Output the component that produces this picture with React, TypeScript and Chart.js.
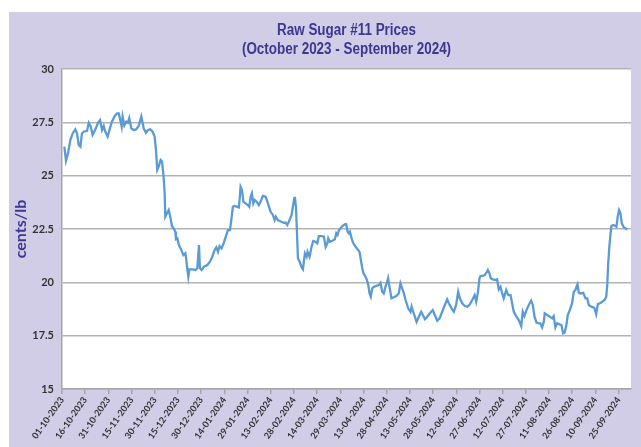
import React, { useEffect, useRef } from "react";
import { Chart, registerables } from "chart.js";

Chart.register(...registerables);

// Day offsets from 01-10-2023
const days: number[] = [
  1.5, 2.6, 3.9, 5.4, 6.9, 8.6, 9.7, 10.8, 11.9, 12.9, 14.0, 16.2, 17.3, 18.6, 19.8, 21.6, 23.3, 24.6, 25.9, 27.0,
  28.0, 29.5, 31.3, 32.3, 34.1, 35.6, 36.7, 37.7, 38.6, 39.2, 40.3, 41.6, 42.7, 43.5, 44.8, 46.3, 47.9, 49.6, 51.3, 52.8,
  54.3, 55.6, 57.1, 58.6, 59.9, 60.8, 61.6, 62.5, 63.8, 64.7, 65.7, 66.4, 66.8, 67.9, 69.0, 70.0, 71.1, 72.2, 73.3, 73.7,
  74.6, 75.6, 77.2, 78.5, 79.8, 80.4, 81.1, 81.7, 82.4, 84.3, 86.4, 87.5, 88.6, 89.2, 90.3, 91.8, 94.0, 95.7, 97.2, 98.7,
  99.8, 100.9, 101.9, 103.2, 104.7, 106.3, 107.3, 108.6, 109.5, 110.5, 111.6, 113.4, 114.4, 115.1, 115.5, 116.4, 117.3, 118.7, 120.2, 121.1,
  122.0, 122.8, 123.7, 124.6, 125.9, 127.3, 128.9, 129.9, 131.7, 133.2, 134.9, 136.4, 137.5, 138.3, 139.6, 141.8, 143.5, 144.6, 145.7, 146.7,
  148.5, 149.3, 150.2, 150.6, 151.3, 151.9, 152.6, 153.7, 155.0, 155.8, 157.1, 158.2, 158.8, 160.1, 161.4, 162.5, 164.0, 165.1, 166.1, 167.9,
  169.4, 170.5, 171.6, 172.2, 173.2, 174.8, 176.5, 177.4, 178.2, 179.1, 180.2, 181.3, 182.9, 183.8, 184.7, 185.5, 186.2, 187.3, 188.4, 189.9,
  191.6, 192.4, 193.3, 194.2, 195.0, 196.3, 197.2, 198.1, 198.9, 199.7, 200.6, 201.7, 203.2, 204.9, 206.0, 207.1, 208.1, 209.2, 210.3, 210.9,
  211.8, 213.1, 214.6, 216.2, 217.8, 218.9, 220.0, 221.1, 222.2, 223.9, 225.4, 226.1, 226.9, 228.2, 229.3, 230.8, 232.3, 233.4, 234.7, 236.2,
  237.9, 239.8, 241.1, 242.7, 244.2, 245.9, 247.6, 249.1, 250.2, 251.9, 253.4, 254.9, 256.2, 257.3, 258.8, 260.5, 262.1, 263.5, 265.3, 266.9,
  267.9, 268.9, 270.0, 270.7, 272.2, 273.4, 274.5, 275.4, 276.5, 277.3, 278.6, 280.4, 281.4, 282.5, 283.6, 284.7, 285.7, 287.3, 288.6, 290.1,
  291.1, 292.2, 293.9, 295.4, 297.0, 298.0, 299.1, 300.4, 301.9, 303.4, 304.5, 305.6, 306.9, 308.3, 309.4, 310.5, 311.6, 312.2, 313.8, 315.5,
  317.0, 318.0, 319.1, 320.2, 321.9, 323.0, 324.1, 325.1, 326.2, 327.1, 328.4, 329.9, 331.0, 332.1, 332.7, 333.4, 334.2, 335.3, 337.1, 338.6,
  339.7, 340.7, 342.3, 343.6, 344.4, 345.5, 346.6, 347.9, 349.4, 350.9, 352.0, 352.7, 353.2, 354.0, 354.7, 355.3, 356.5, 358.0, 358.6, 359.4,
  360.3, 361.2, 362.0, 363.3, 365.5,
];

// Raw Sugar #11 prices, cents/lb
const prices: number[] = [
  26.36, 25.70, 26.05, 26.67, 26.98, 27.17, 26.98, 26.44, 26.36, 26.98, 27.06, 27.10, 27.48, 27.30, 26.91, 27.17, 27.48, 27.61, 27.14, 27.33,
  27.06, 26.83, 27.30, 27.53, 27.80, 27.92, 27.92, 27.61, 27.30, 27.77, 27.36, 27.53, 27.48, 27.69, 27.22, 27.14, 27.17, 27.33, 27.77, 27.22,
  27.01, 27.14, 27.17, 27.06, 26.83, 26.20, 25.27, 25.42, 25.73, 25.66, 24.95, 24.17, 23.08, 23.24, 23.39, 23.08, 22.64, 22.53, 22.37, 22.02,
  22.06, 21.75, 21.51, 21.28, 21.36, 21.05, 20.58, 20.26, 20.61, 20.61, 20.58, 20.66, 21.75, 20.66, 20.58, 20.73, 20.81, 20.97, 21.20, 21.51,
  21.64, 21.43, 21.70, 21.59, 21.86, 22.22, 22.45, 22.45, 22.92, 23.54, 23.58, 23.54, 23.51, 24.09, 24.48, 24.33, 23.78, 23.70, 23.62, 23.54,
  24.01, 24.17, 23.70, 23.86, 23.78, 23.62, 23.86, 24.05, 24.01, 23.70, 23.31, 23.16, 22.92, 23.08, 22.92, 22.84, 22.79, 22.80, 22.69, 22.84,
  23.16, 23.54, 23.94, 24.01, 23.54, 22.45, 21.12, 20.97, 20.70, 20.61, 21.36, 21.20, 21.43, 21.20, 21.67, 21.94, 21.90, 21.83, 22.17, 22.17,
  22.14, 21.67, 21.83, 22.06, 21.90, 21.95, 22.02, 22.30, 22.22, 22.45, 22.53, 22.64, 22.72, 22.73, 22.37, 22.30, 22.37, 22.06, 21.83, 21.67,
  21.51, 21.43, 21.05, 20.66, 20.42, 20.26, 20.11, 19.87, 19.48, 19.33, 19.72, 19.79, 19.83, 19.87, 19.98, 19.56, 19.48, 19.79, 20.03, 20.19,
  19.79, 19.25, 19.30, 19.36, 19.48, 19.95, 19.72, 19.48, 19.17, 18.78, 18.62, 18.86, 18.67, 18.39, 18.15, 18.39, 18.62, 18.47, 18.27, 18.39,
  18.55, 18.70, 18.47, 18.20, 18.31, 18.62, 18.94, 19.20, 19.02, 18.78, 18.62, 18.94, 19.56, 19.25, 19.02, 18.89, 18.86, 18.94, 19.17, 19.40,
  19.09, 19.48, 20.19, 20.30, 20.30, 20.34, 20.45, 20.58, 20.42, 20.19, 20.14, 20.11, 20.14, 19.67, 19.79, 19.48, 19.25, 19.64, 19.40, 19.40,
  19.02, 18.62, 18.39, 18.23, 17.95, 18.62, 18.42, 18.70, 18.94, 19.14, 18.94, 18.39, 18.11, 18.08, 18.08, 17.89, 18.15, 18.55, 18.47, 18.39,
  18.31, 18.42, 17.89, 18.08, 18.03, 18.00, 17.61, 17.64, 18.00, 18.47, 18.70, 19.02, 19.56, 19.64, 19.79, 19.91, 19.51, 19.48, 19.51, 19.25,
  19.25, 18.94, 18.86, 18.83, 18.78, 18.51, 18.98, 19.02, 19.09, 19.17, 19.33, 19.95, 20.81, 21.67, 22.22, 22.64, 22.69, 22.64, 22.61, 23.08,
  23.39, 23.24, 22.77, 22.58, 22.48,
];

const tickDays: number[] = [
  0, 15, 30, 45, 60, 75, 90, 105, 120, 135, 150, 165, 180, 195, 210, 225, 240, 255, 270, 285, 300, 315, 330, 345, 360,
];

const tickLabels: string[] = [
  "01-10-2023", "16-10-2023", "31-10-2023", "15-11-2023", "30-11-2023", "15-12-2023", "30-12-2023", "14-01-2024",
  "29-01-2024", "13-02-2024", "28-02-2024", "14-03-2024", "29-03-2024", "13-04-2024", "28-04-2024", "13-05-2024",
  "28-05-2024", "12-06-2024", "27-06-2024", "12-07-2024", "27-07-2024", "11-08-2024", "26-08-2024", "10-09-2024",
  "25-09-2024",
];

const titleLines: string[] = ["Raw Sugar #11 Prices", "(October 2023 - September 2024)"];

const TITLE_COLOR = "#3d3790";

export default function App() {
  const ref = useRef<HTMLCanvasElement | null>(null);

  useEffect(() => {
    if (!ref.current) return;

    const bgPlugin = {
      id: "plotBg",
      beforeDraw(chart: any) {
        const { ctx, chartArea } = chart;
        ctx.save();
        ctx.fillStyle = "#ffffff";
        ctx.fillRect(chartArea.left, chartArea.top, chartArea.right - chartArea.left, chartArea.bottom - chartArea.top);
        ctx.restore();
      },
    };

    const titlePlugin = {
      id: "twoLineTitle",
      afterDraw(chart: any) {
        const { ctx, chartArea } = chart;
        const cx = (chartArea.left + chartArea.right) / 2;
        ctx.save();
        ctx.translate(cx, 0);
        ctx.scale(0.84, 1);
        ctx.fillStyle = TITLE_COLOR;
        ctx.font = "bold 16px 'Liberation Sans', Arial, sans-serif";
        ctx.textAlign = "center";
        ctx.textBaseline = "middle";
        ctx.fillText(titleLines[0], 0, 19);
        ctx.fillText(titleLines[1], 0, 38);
        ctx.restore();
      },
    };

    const chart = new Chart(ref.current, {
      type: "line",
      data: {
        datasets: [
          {
            data: days.map((d, i) => ({ x: d, y: prices[i] })),
            borderColor: "#5b9bd5",
            borderWidth: 2.3,
            pointRadius: 0,
            tension: 0,
            fill: false,
          },
        ],
      },
      options: {
        animation: false,
        responsive: false,
        layout: { padding: { top: 57, right: 10, left: 0, bottom: 0 } },
        plugins: {
          legend: { display: false },
          tooltip: { enabled: false },
          title: { display: false },
        },
        scales: {
          x: {
            type: "linear",
            min: 0,
            max: 368,
            afterBuildTicks: (scale: any) => {
              scale.ticks = tickDays.map((v) => ({ value: v }));
            },
            afterFit: (scale: any) => {
              scale.height = 58;
            },
            ticks: {
              autoSkip: false,
              minRotation: 55,
              maxRotation: 55,
              padding: 1,
              color: "#333333",
              font: { family: "Lato", weight: "bold", size: 9 },
              callback: (_v: any, i: number) => tickLabels[i],
            },
            grid: {
              drawOnChartArea: false,
              drawTicks: true,
              tickLength: 5,
              color: "#a6a6a6",
              lineWidth: 1.5,
            },
            border: { display: true, color: "#a6a6a6", width: 1.5 },
          },
          y: {
            min: 15,
            max: 30,
            afterFit: (scale: any) => {
              scale.width = 53;
            },
            ticks: {
              stepSize: 2.5,
              padding: 8,
              color: "#333333",
              font: { family: "Lato", weight: "bold", size: 11 },
            },
            grid: {
              drawTicks: false,
              color: "#b3b3b3",
              lineWidth: 1.5,
            },
            border: { display: true, color: "#a6a6a6", width: 1.5 },
            title: {
              display: true,
              text: "cents/lb",
              color: TITLE_COLOR,
              font: { family: "Lato", weight: "bold", size: 16 },
              padding: { top: 2, bottom: 0 },
            },
          },
        },
      },
      plugins: [bgPlugin, titlePlugin],
    });

    return () => chart.destroy();
  }, []);

  return (
    <div
      style={{
        position: "absolute",
        left: 9,
        top: 12,
        width: 632,
        height: 435,
        background: "#d1cde6",
      }}
    >
      <canvas ref={ref} width={632} height={435} style={{ display: "block" }} />
    </div>
  );
}
